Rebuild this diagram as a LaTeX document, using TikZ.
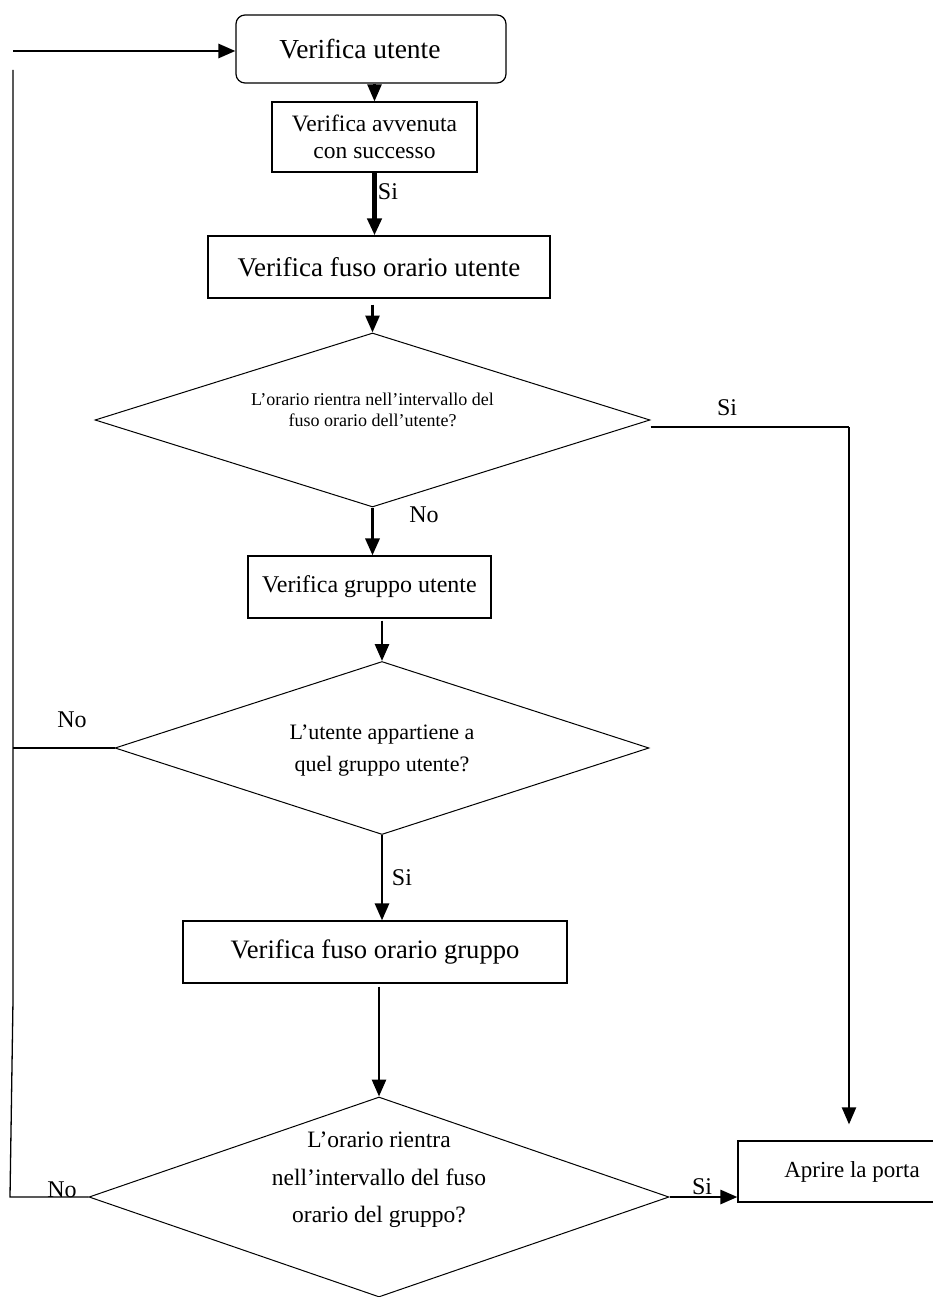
\documentclass[tikz,border=0pt]{standalone}
\usepackage{fontspec}
\setmainfont{Liberation Serif}
\usetikzlibrary{arrows.meta,shapes.geometric,calc}
\begin{document}
\begin{tikzpicture}[x=1pt,y=-1pt,
  box/.style={draw,line width=1.2pt,rectangle,inner sep=0pt,align=center},
  dia/.style={draw,line width=1pt,diamond,inner sep=0pt,shape aspect=3},
  arr/.style={-{Triangle[length=17pt,width=14pt]},line width=2.8pt},
  thinline/.style={line width=1.3pt},
  lbl/.style={font=\fontsize{24}{28}\selectfont,inner sep=0pt},
  dtext/.style={align=center,inner sep=0pt}]
\useasboundingbox (0,0) rectangle (933,1297);
\clip (0,0) rectangle (933,1297);
\fill[white] (0,0) rectangle (933,1297);

% boxes
\node[box,rounded corners=9pt,minimum width=270pt,minimum height=68pt,font=\fontsize{27.5}{32}\selectfont] (b1) at (371,49) {Verifica utente\hspace*{22pt}};
\node[box,minimum width=205pt,minimum height=70pt,font=\fontsize{23.5}{27}\selectfont] (b2) at (374.5,137) {Verifica avvenuta\\con successo};
\node[box,minimum width=342pt,minimum height=62pt,font=\fontsize{27}{32}\selectfont] (b3) at (379,267) {Verifica fuso orario utente};
\node[box,minimum width=243pt,minimum height=62pt,font=\fontsize{24}{28}\selectfont] (b4) at (369.5,587) {Verifica gruppo utente};
\node[box,minimum width=384pt,minimum height=62pt,font=\fontsize{26.6}{31}\selectfont] (b5) at (375,952) {Verifica fuso orario gruppo};
\node[box,minimum width=228pt,minimum height=61pt,font=\fontsize{23}{27}\selectfont] (b6) at (852,1171.5) {Aprire la porta};

% diamonds
\node[dia,minimum width=555pt,minimum height=174pt] (d1) at (372.5,420) {};
\node[dtext,font=\fontsize{18}{20.5}\selectfont] (d1t) at ([yshift=10pt]d1.center) {L’orario rientra nell’intervallo del\\fuso orario dell’utente?};
\node[dia,minimum width=534pt,minimum height=173pt] (d2) at (382,748) {};
\node[dtext,font=\fontsize{22}{32}\selectfont] (d2t) at ([yshift=-3pt]d2.center) {L’utente appartiene a\\quel gruppo utente?};
\node[dia,minimum width=580pt,minimum height=200pt] (d3) at (379,1197) {};
\node[dtext,font=\fontsize{23.5}{37.5}\selectfont] (d3t) at ([yshift=17pt]d3.center) {L’orario rientra\\nell’intervallo del fuso\\orario del gruppo?};

% coordinates for free ends
\coordinate (s0) at (13,51);
\coordinate (c1) at (849,427);
\coordinate (lt) at (13,70);
\coordinate (lm) at (13,1000);
\coordinate (lb) at (10,1197);
\coordinate (l2) at (13,748);

% connectors
\draw[arr] (s0) -- (s0 -| b1.west);
\draw[arr,line width=2.5pt] (b2.north |- b1.south) -- (b2.north);
\draw[arr,line width=4.2pt] (b2.south) -- (b2.south |- b3.north);
\draw[arr] ([yshift=-6pt]b3.south -| d1.north) -- (d1.north);
\draw[arr,line width=3.3pt] (d1.south) -- (d1.south |- b4.north);
\draw[line width=1.2pt] ([yshift=-7pt]d1.east) -- (c1);
\draw[arr,line width=2.2pt,shorten >=16pt] (c1) -- (c1 |- b6.north);
\draw[arr] ([yshift=-2pt]d2.north |- b4.south) -- (d2.north);
\draw[arr] (d2.south) -- (d2.south |- b5.north);
\draw[arr] ([yshift=-3pt]d3.north |- b5.south) -- (d3.north);
\draw[arr] (d3.east) -- (d3.east -| b6.west);
\draw[thinline] (d2.west) -- (l2);
\draw[thinline] (d3.west) -- (lb) -- (lm) -- (lt);

% labels
\node[lbl] (si1) at (388,192) {Si};
\node[lbl] (si2) at (727,408) {Si};
\node[lbl] (no1) at (424,515) {No};
\node[lbl] (no2) at (72,720) {No};
\node[lbl] (si3) at (402,878) {Si};
\node[lbl] (no3) at (62,1190) {No};
\node[lbl] (si4) at (702,1187) {Si};
\end{tikzpicture}
\end{document}
